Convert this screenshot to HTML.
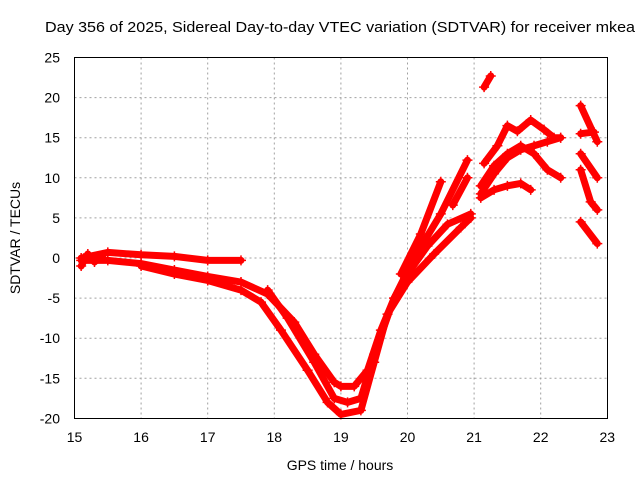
<!DOCTYPE html>
<html><head><meta charset="utf-8"><style>
body{margin:0;background:#fff;}
svg{display:block;font-family:"Liberation Sans",sans-serif;}
</style></head><body>
<svg id="chart" width="640" height="480" xmlns="http://www.w3.org/2000/svg">
<text x="45" y="32" font-size="15" textLength="590" lengthAdjust="spacingAndGlyphs">Day 356 of 2025, Sidereal Day-to-day VTEC variation (SDTVAR) for receiver mkea</text>
<text x="340" y="470" font-size="14" text-anchor="middle">GPS time / hours</text>
<text x="20" y="238" font-size="14" text-anchor="middle" transform="rotate(-90 20 238)">SDTVAR / TECUs</text>
<g id="grid"></g>
<g id="series"></g>
<rect x="74.5" y="57.5" width="533" height="361" fill="none" stroke="#000"/>
<g id="ticks"></g>
</svg>
<script>
const xTicks=[15,16,17,18,19,20,21,22,23];
const yTicks=[25,20,15,10,5,0,-5,-10,-15,-20];
const trackA=[[15.1,0],[15.5,0.7],[16,0.4],[16.5,0.2],[17,-0.3],[17.5,-0.3]];
const trackA2=[[15.1,-1],[15.2,0.5],[15.3,-0.5],[15.4,0.2]];
const trackB=[[15.1,-0.3],[15.5,-0.3],[16,-0.7],[16.5,-1.5],[17,-2.3],[17.5,-3],[17.9,-4.5],[18.3,-8],[18.6,-12],[18.9,-15.5],[19,-16],[19.2,-16],[19.4,-14],[19.6,-9],[19.8,-5],[20,-2],[20.3,1.5],[20.6,4.2],[20.95,5.5]];
const trackC=[[16,-1],[16.5,-2],[17,-2.8],[17.5,-4],[17.8,-5.5],[18.1,-9],[18.5,-14],[18.8,-18],[19,-19.5],[19.3,-19],[19.5,-13],[19.7,-7],[20,-3],[20.4,0.5],[20.8,3.8],[20.95,5]];
const trackD=[[17.9,-4],[18.2,-7.5],[18.6,-13],[18.9,-17.5],[19.1,-18],[19.3,-17.5],[19.5,-12],[19.8,-5],[20.1,0],[20.5,5.5],[20.9,12.2]];
const trackE=[[19.9,-2],[20.2,3],[20.5,9.5]];
const trackE2=[[20.68,6.6],[20.9,10]];
const trackF=[[21.15,11.8],[21.35,14],[21.5,16.5],[21.65,15.8],[21.85,17.2],[22.05,16],[22.2,15],[22.3,15]];
const trackG=[[21.1,8],[21.3,10.5],[21.5,12.5],[21.7,13.5],[21.9,14],[22.1,14.5],[22.3,15]];
const trackH=[[21.1,9],[21.3,11.5],[21.5,13],[21.7,14],[21.9,13],[22.1,11],[22.3,10]];
const trackI=[[21.1,7.5],[21.3,8.5],[21.5,9],[21.7,9.3],[21.85,8.5]];
const trackJ=[[21.15,21.3],[21.25,22.7]];
const trackK=[[22.6,19],[22.85,14.5]];
const trackL=[[22.6,15.5],[22.8,15.7]];
const trackM=[[22.6,13],[22.85,10]];
const trackN=[[22.6,11],[22.75,7],[22.85,6]];
const trackO=[[22.6,4.5],[22.85,1.8]];
const tracks=[trackA,trackA2,trackB,trackC,trackD,trackE,trackE2,trackF,trackG,trackH,trackI,trackJ,trackK,trackL,trackM,trackN,trackO];
const X=h=>74.5+(h-15)*66.6;
const Y=v=>57.5+(25-v)*8.02;
const NS="http://www.w3.org/2000/svg";
const grid=document.getElementById('grid'),ticks=document.getElementById('ticks'),ser=document.getElementById('series');
function mk(tag,attrs,parent){const e=document.createElementNS(NS,tag);for(const k in attrs)e.setAttribute(k,attrs[k]);parent.appendChild(e);return e;}
xTicks.forEach(t=>{
  const x=X(t);
  if(t>15&&t<23){const g=mk('line',{x1:x,x2:x,y1:57.5,y2:418.5,stroke:'#a0a0a0','stroke-dasharray':'2,3'},grid);
  
  }
  const l=mk('text',{x:x,y:442,'font-size':14,'text-anchor':'middle'},ticks);l.textContent=t;
  
  
});
yTicks.forEach(t=>{
  const y=Y(t);
  if(t<25&&t>-20){const g=mk('line',{x1:74.5,x2:607.5,y1:y,y2:y,stroke:'#a0a0a0','stroke-dasharray':'2,3'},grid);
  
  }
  const l=mk('text',{x:60,y:y+5,'font-size':14,'text-anchor':'end'},ticks);l.textContent=t;
  
  
});
tracks.forEach((tr,i)=>{
  const p=mk('polyline',{points:tr.map(d=>X(d[0])+','+Y(d[1])).join(' '),fill:'none',stroke:'#f00','stroke-width':7,'stroke-linejoin':'round','stroke-linecap':'round'},ser);
  
  
  tr.forEach(d=>{
    const m=mk('path',{d:`M${X(d[0])-5},${Y(d[1])}h10M${X(d[0])},${Y(d[1])-5}v10`,stroke:'#f00','stroke-width':1.5},ser);
    
    
  });
});
</script>
</body></html>
